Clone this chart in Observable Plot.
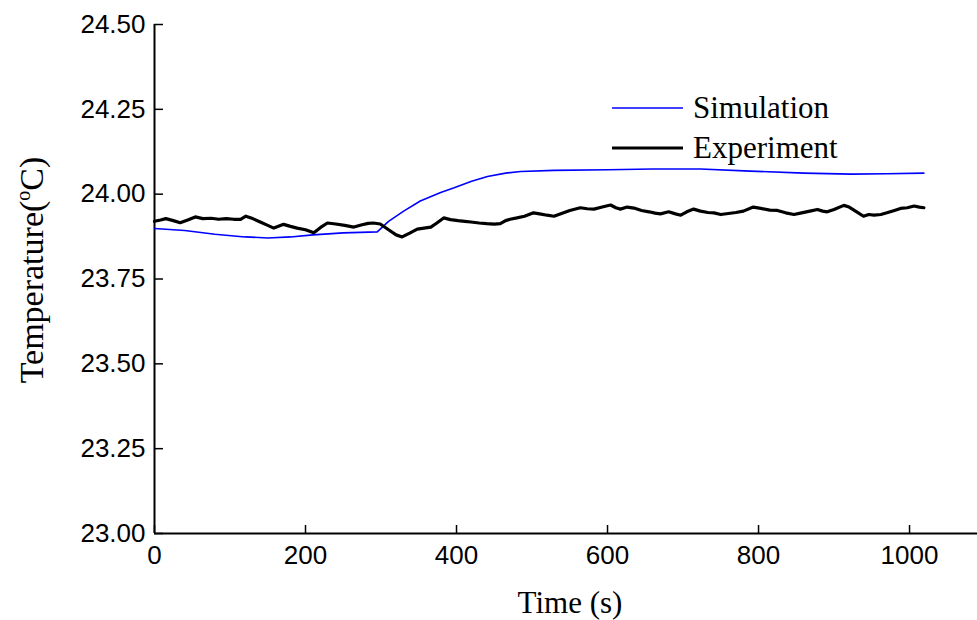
<!DOCTYPE html>
<html>
<head>
<meta charset="utf-8">
<script src="https://cdn.jsdelivr.net/npm/d3@7"></script>
<script src="https://cdn.jsdelivr.net/npm/@observablehq/plot@0.6"></script>
<style>
  html, body { margin: 0; padding: 0; background: #fff; }
  #wrap { position: relative; width: 977px; height: 620px; }
  #legend { position: absolute; left: 0; top: 0; pointer-events: none; }
</style>
</head>
<body>
<div id="wrap"></div>
<script>
// ---- data ----
const seriesNames = ["Simulation", "Experiment"];
const seriesColors = ["#0000ff", "#000000"];
const xTicks = [0, 200, 400, 600, 800, 1000];
const yTicks = [23.00, 23.25, 23.50, 23.75, 24.00, 24.25, 24.50];

const simTime = [0, 40, 80, 120, 150, 180, 210, 250, 295, 310, 330, 352, 379, 396, 420, 441, 465, 485, 529, 600, 660, 723, 789, 860, 922, 970, 1019];
const simTemp = [23.899, 23.893, 23.882, 23.874, 23.871, 23.874, 23.880, 23.886, 23.889, 23.920, 23.950, 23.980, 24.005, 24.018, 24.038, 24.052, 24.062, 24.067, 24.070, 24.072, 24.074, 24.074, 24.068, 24.062, 24.059, 24.060, 24.062];

const expTime = [0, 8, 15, 25, 34, 44, 54, 64, 75, 85, 95, 105, 114, 121, 130, 140, 150, 158, 165, 171, 180, 189, 200, 211, 220, 229, 240, 252, 264, 275, 283, 290, 299, 310, 320, 328, 338, 348, 357, 366, 374, 383, 392, 402, 411, 419, 430, 440, 450, 458, 465, 471, 480, 490, 502, 510, 520, 529, 540, 550, 564, 573, 582, 593, 604, 611, 617, 626, 635, 645, 655, 663, 670, 681, 690, 697, 705, 714, 723, 733, 741, 750, 760, 770, 780, 793, 803, 815, 825, 836, 847, 857, 868, 878, 885, 891, 900, 913, 920, 930, 939, 946, 953, 962, 970, 980, 988, 997, 1006, 1013, 1019];
const expTemp = [23.920, 23.924, 23.928, 23.922, 23.916, 23.924, 23.933, 23.928, 23.929, 23.926, 23.928, 23.926, 23.926, 23.935, 23.928, 23.918, 23.908, 23.900, 23.906, 23.911, 23.905, 23.900, 23.895, 23.886, 23.902, 23.915, 23.912, 23.908, 23.903, 23.910, 23.914, 23.915, 23.912, 23.895, 23.880, 23.874, 23.885, 23.897, 23.900, 23.903, 23.915, 23.930, 23.925, 23.922, 23.920, 23.918, 23.915, 23.913, 23.912, 23.913, 23.922, 23.926, 23.930, 23.935, 23.945, 23.942, 23.938, 23.935, 23.944, 23.952, 23.960, 23.957, 23.956, 23.962, 23.968, 23.960, 23.956, 23.962, 23.959, 23.952, 23.948, 23.944, 23.942, 23.948, 23.942, 23.938, 23.948, 23.956, 23.950, 23.946, 23.945, 23.940, 23.943, 23.946, 23.950, 23.962, 23.958, 23.953, 23.952, 23.945, 23.940, 23.945, 23.950, 23.955, 23.950, 23.948, 23.955, 23.967, 23.962, 23.948, 23.935, 23.940, 23.938, 23.940, 23.945, 23.952, 23.958, 23.960, 23.965, 23.962, 23.960];

const xLabel = "Time (s)";
const yLabel = "Temperature(°C)";

const sim = simTime.map((t, i) => ({t, v: simTemp[i]}));
const exp = expTime.map((t, i) => ({t, v: expTemp[i]}));

const sans = "Liberation Sans, Arial, sans-serif";
const serif = "Liberation Serif, Times New Roman, serif";

const chart = Plot.plot({
  width: 977,
  height: 620,
  marginLeft: 154,
  marginRight: 0,
  marginTop: 24,
  marginBottom: 87,
  style: {background: "#fff", color: "#000", fontFamily: sans, overflow: "visible"},
  x: {domain: [0, 1090]},
  y: {domain: [23, 24.5]},
  marks: [
    Plot.axisX({ticks: xTicks, tickSize: -8, tickPadding: 20, fontSize: 26, fontFamily: sans, label: null, strokeWidth: 1.5, tickFormat: d3.format("d")}),
    Plot.axisY({ticks: yTicks, tickSize: -9, tickPadding: 18, fontSize: 26, fontFamily: sans, label: null, strokeWidth: 1.5, tickFormat: d3.format(".2f")}),
    Plot.ruleX([0], {y1: 23, y2: 24.5, stroke: "#000", strokeWidth: 2}),
    Plot.ruleY([23], {stroke: "#000", strokeWidth: 2}),
    Plot.line(sim, {x: "t", y: "v", stroke: seriesColors[0], strokeWidth: 1.6}),
    Plot.line(exp, {x: "t", y: "v", stroke: seriesColors[1], strokeWidth: 3.2, strokeLinejoin: "round"}),
    Plot.text([xLabel], {frameAnchor: "bottom", dx: 4, dy: 79, lineAnchor: "bottom", textAnchor: "middle", fontSize: 31, fontFamily: serif}),
    Plot.text([yLabel], {frameAnchor: "left", rotate: -90, dx: -112, dy: -9, lineAnchor: "bottom", textAnchor: "middle", fontSize: 34, fontFamily: serif})
  ]
});

document.getElementById("wrap").appendChild(chart);

// superscript "o" in the y title, like the reference
d3.select(chart).selectAll("text").filter(function () { return this.textContent === yLabel; }).each(function () {
  const el = d3.select(this);
  el.text(null);
  el.append("tspan").text("Temperature(");
  el.append("tspan").attr("font-size", 20).attr("dy", -13).text("o");
  el.append("tspan").attr("dy", 13).text("C)");
});

// legend
const leg = d3.select("#wrap").append("svg").attr("id", "legend").attr("width", 977).attr("height", 620);
const legY = [108, 148];
const legBase = [118, 158];
seriesNames.forEach((name, i) => {
  leg.append("line").attr("x1", 612).attr("x2", 683).attr("y1", legY[i]).attr("y2", legY[i])
    .attr("stroke", seriesColors[i]).attr("stroke-width", i === 0 ? 1.6 : 3.2);
  leg.append("text").attr("x", 693).attr("y", legBase[i]).attr("font-family", serif)
    .attr("font-size", 31).attr("fill", "#000").text(name);
});
</script>
</body>
</html>
